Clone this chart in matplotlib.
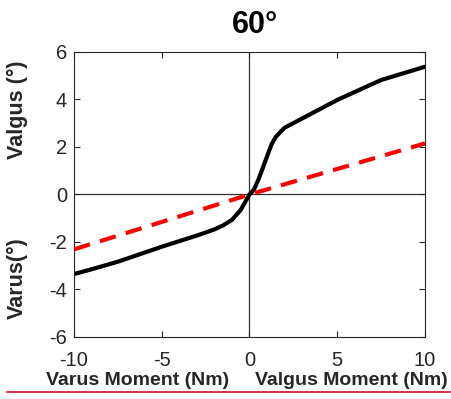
import matplotlib
matplotlib.use("Agg")
import matplotlib.pyplot as plt
from matplotlib.lines import Line2D

# values
moment = [-10, -9, -7.5, -5, -3, -2, -1.5, -1, -0.5, 0, 0.25, 0.5, 0.75, 1, 1.25, 1.5, 2, 3, 5, 7.5, 10]
angle_black = [-3.35, -3.15, -2.83, -2.2, -1.73, -1.47, -1.3, -1.07, -0.65, 0.0,
               0.2, 0.61, 1.1, 1.6, 2.1, 2.43, 2.81, 3.2, 3.98, 4.82, 5.38]
red_moment = [-10, 0, 10]
angle_red = [-2.31, 0.0, 2.15]

x_ticks = [-10, -5, 0, 5, 10]
y_ticks = [-6, -4, -2, 0, 2, 4, 6]

plt.rcParams['font.family'] = ['Liberation Sans', 'DejaVu Sans']
plt.rcParams['axes.unicode_minus'] = False

fig = plt.figure(figsize=(4.52, 3.99), dpi=100)
ax = fig.add_axes([0.1637, 0.1554, 0.7765, 0.7143])

ax.axhline(0, color='#333333', lw=0.9, zorder=1)
ax.axvline(0, color='#333333', lw=0.9, zorder=1)
ax.plot(red_moment, angle_red, color='#ff0000', lw=3.0, dashes=(4, 2.5), zorder=3)
ax.plot(moment, angle_black, color='black', lw=3.0, zorder=2,
        solid_joinstyle='round', solid_capstyle='round')

ax.set_xlim(-10, 10)
ax.set_ylim(-6, 6)
ax.set_xticks(x_ticks)
ax.set_yticks(y_ticks)
ax.tick_params(direction='in', top=True, right=True, length=4, width=0.8,
               labelsize=14.5, colors='#262626')
ax.tick_params(axis='x', pad=10)
ax.tick_params(axis='y', pad=5)
for s in ax.spines.values():
    s.set_color('#262626')
    s.set_linewidth(0.8)

fig.text(0.564, 0.937, '60°', fontsize=22, fontweight='bold', ha='center', va='center')
fig.text(0.305, 0.047, 'Varus Moment (Nm)', fontsize=14, fontweight='bold',
         color='#262626', ha='center', va='center')
fig.text(0.778, 0.047, 'Valgus Moment (Nm)', fontsize=14, fontweight='bold',
         color='#262626', ha='center', va='center')
fig.text(0.038, 0.724, 'Valgus (°)', fontsize=15.5, fontweight='bold', rotation=90,
         color='#262626', ha='center', va='center')
fig.text(0.038, 0.303, 'Varus(°)', fontsize=15.5, fontweight='bold', rotation=90,
         color='#262626', ha='center', va='center')

fig.add_artist(Line2D([7 / 452, 450 / 452], [0.0175, 0.0175], color='#c8102e', lw=1.2))

fig.savefig('out.png', dpi=100)
